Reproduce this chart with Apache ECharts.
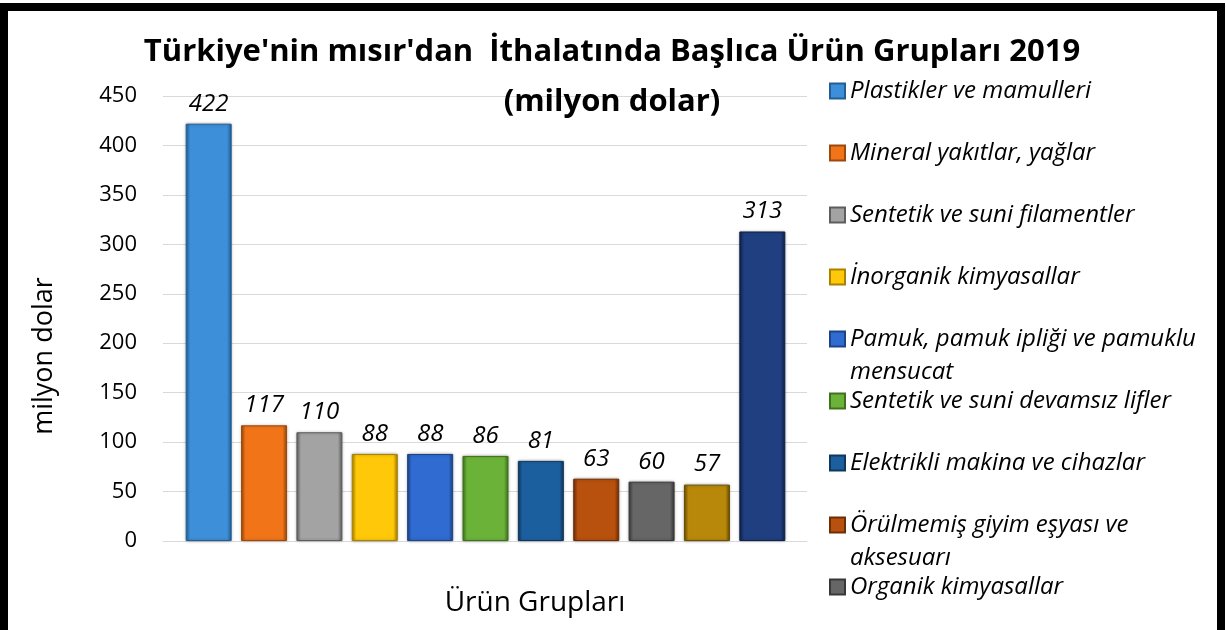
<html>
<head>
    <meta charset="utf-8"/>
    <title>Türkiye'nin mısır'dan İthalatı</title>
    <script src="https://cdn.jsdelivr.net/npm/echarts@6/dist/echarts.min.js"></script>
    <style>
        html, body { margin: 0; padding: 0; background: #fff; }
        #main { width: 1226px; height: 630px; }
    </style>
</head>
<body>
<div id="main"></div>
<script type="text/javascript">
    // veriler
    var urunler = [
        'Plastikler ve mamulleri',
        'Mineral yakıtlar, yağlar',
        'Sentetik ve suni filamentler',
        'İnorganik kimyasallar',
        'Pamuk, pamuk ipliği ve pamuklu mensucat',
        'Sentetik ve suni devamsız lifler',
        'Elektrikli makina ve cihazlar',
        'Örülmemiş giyim eşyası ve aksesuarı',
        'Organik kimyasallar',
        'Grup 10',
        'Grup 11'
    ];
    var degerler = [422, 117, 110, 88, 88, 86, 81, 63, 60, 57, 313];
    var renkler = ['#3d8fd9', '#f27418', '#a3a3a3', '#ffc808', '#2f6bd0', '#6bb338',
                   '#1c5f9f', '#b8500e', '#666666', '#b8880a', '#1f3f80'];
    var koyuRenkler = ['#235f96', '#9c4a0c', '#5e5e5e', '#a88200', '#1c4486', '#40721e',
                       '#10385e', '#6e2f06', '#383838', '#6a4f04', '#0f2146'];
    var yEtiketleri = [0, 50, 100, 150, 200, 250, 300, 350, 400, 450];

    // legendde gorunen 9 kalem (son ikisi resimde kesik)
    var legendAdlari = urunler.slice(0, 9);
    var legendMerkez = [91, 153, 215, 277, 339, 401, 463, 525, 587];
    var legendYazilari = {
        'Pamuk, pamuk ipliği ve pamuklu mensucat': '\nPamuk, pamuk ipliği ve pamuklu\nmensucat',
        'Örülmemiş giyim eşyası ve aksesuarı': '\nÖrülmemiş giyim eşyası ve\naksesuarı'
    };

    var font = 'Open Sans';
    var satir = 33;
    var myChart = echarts.init(document.getElementById('main'));

    var series = urunler.map(function (ad, i) {
        var d = urunler.map(function (u, j) { return j === i ? degerler[i] : '-'; });
        return {
            name: ad,
            type: 'bar',
            stack: 'toplam',
            barWidth: 46,
            data: d,
            itemStyle: {
                color: new echarts.graphic.LinearGradient(0, 0, 1, 0, [
                    {offset: 0, color: koyuRenkler[i]},
                    {offset: 0.1, color: renkler[i]},
                    {offset: 0.9, color: renkler[i]},
                    {offset: 1, color: koyuRenkler[i]}
                ]),
                borderColor: koyuRenkler[i],
                borderWidth: 1,
                shadowColor: 'rgba(0,0,0,0.3)',
                shadowBlur: 3
            },
            label: {
                show: true,
                position: 'top',
                distance: 8,
                fontFamily: font,
                fontStyle: 'italic',
                fontSize: 24,
                color: '#000'
            }
        };
    });

    var legends = legendAdlari.map(function (ad, i) {
        var satirSayisi = legendYazilari[ad] ? 3 : 1;
        return {
            orient: 'vertical',
            left: 829,
            top: legendMerkez[i] - satirSayisi * satir / 2,
            padding: 0,
            itemWidth: 15,
            itemHeight: 15,
            itemGap: 0,
            icon: 'rect',
            data: [ad],
            formatter: function (name) { return legendYazilari[name] || name; },
            textStyle: {fontFamily: font, fontStyle: 'italic', fontSize: 24, color: '#000', lineHeight: satir}
        };
    });

    var option = {
        animation: false,
        title: {
            text: "Türkiye'nin mısır'dan  İthalatında Başlıca Ürün Grupları 2019\n(milyon dolar)",
            left: 612,
            top: 27,
            padding: 0,
            textAlign: 'center',
            textStyle: {fontFamily: font, fontWeight: 'bold', fontSize: 31, lineHeight: 50, color: '#000'}
        },
        legend: legends,
        grid: [
            {left: 181, right: 436, top: 96, bottom: 89},
            {left: 163, right: 419, top: 96, bottom: 89}
        ],
        xAxis: [
            {
                type: 'category', gridIndex: 0, data: urunler,
                axisLine: {show: false}, axisTick: {show: false}, axisLabel: {show: false}
            },
            {
                type: 'category', gridIndex: 1, data: [''],
                axisLine: {show: true, lineStyle: {color: '#d9d9d9', width: 1}},
                axisTick: {show: false}, axisLabel: {show: false}
            }
        ],
        yAxis: [
            {
                type: 'value', gridIndex: 0, min: 0, max: 450, interval: 50,
                axisLine: {show: false}, axisTick: {show: false}, axisLabel: {show: false},
                splitLine: {show: false}
            },
            {
                type: 'value', gridIndex: 1, min: yEtiketleri[0], max: yEtiketleri[yEtiketleri.length - 1], interval: 50,
                axisLine: {show: false}, axisTick: {show: false},
                axisLabel: {fontFamily: font, fontSize: 22, color: '#000', margin: 26},
                splitLine: {lineStyle: {color: '#d9d9d9', width: 1}}
            }
        ],
        graphic: [
            {
                type: 'rect', silent: true, z: 100,
                shape: {x: 4, y: 7, width: 1217, height: 700},
                style: {fill: 'none', stroke: '#000', lineWidth: 8}
            },
            {
                type: 'text', x: 44, y: 356, rotation: Math.PI / 2,
                style: {text: 'milyon dolar', fontFamily: font, fontSize: 27, fill: '#000',
                        align: 'center', verticalAlign: 'middle'}
            },
            {
                type: 'text', x: 535, y: 603,
                style: {text: 'Ürün Grupları', fontFamily: font, fontSize: 28, fill: '#000',
                        align: 'center', verticalAlign: 'middle'}
            }
        ],
        series: series
    };

    myChart.setOption(option);
</script>
</body>
</html>
